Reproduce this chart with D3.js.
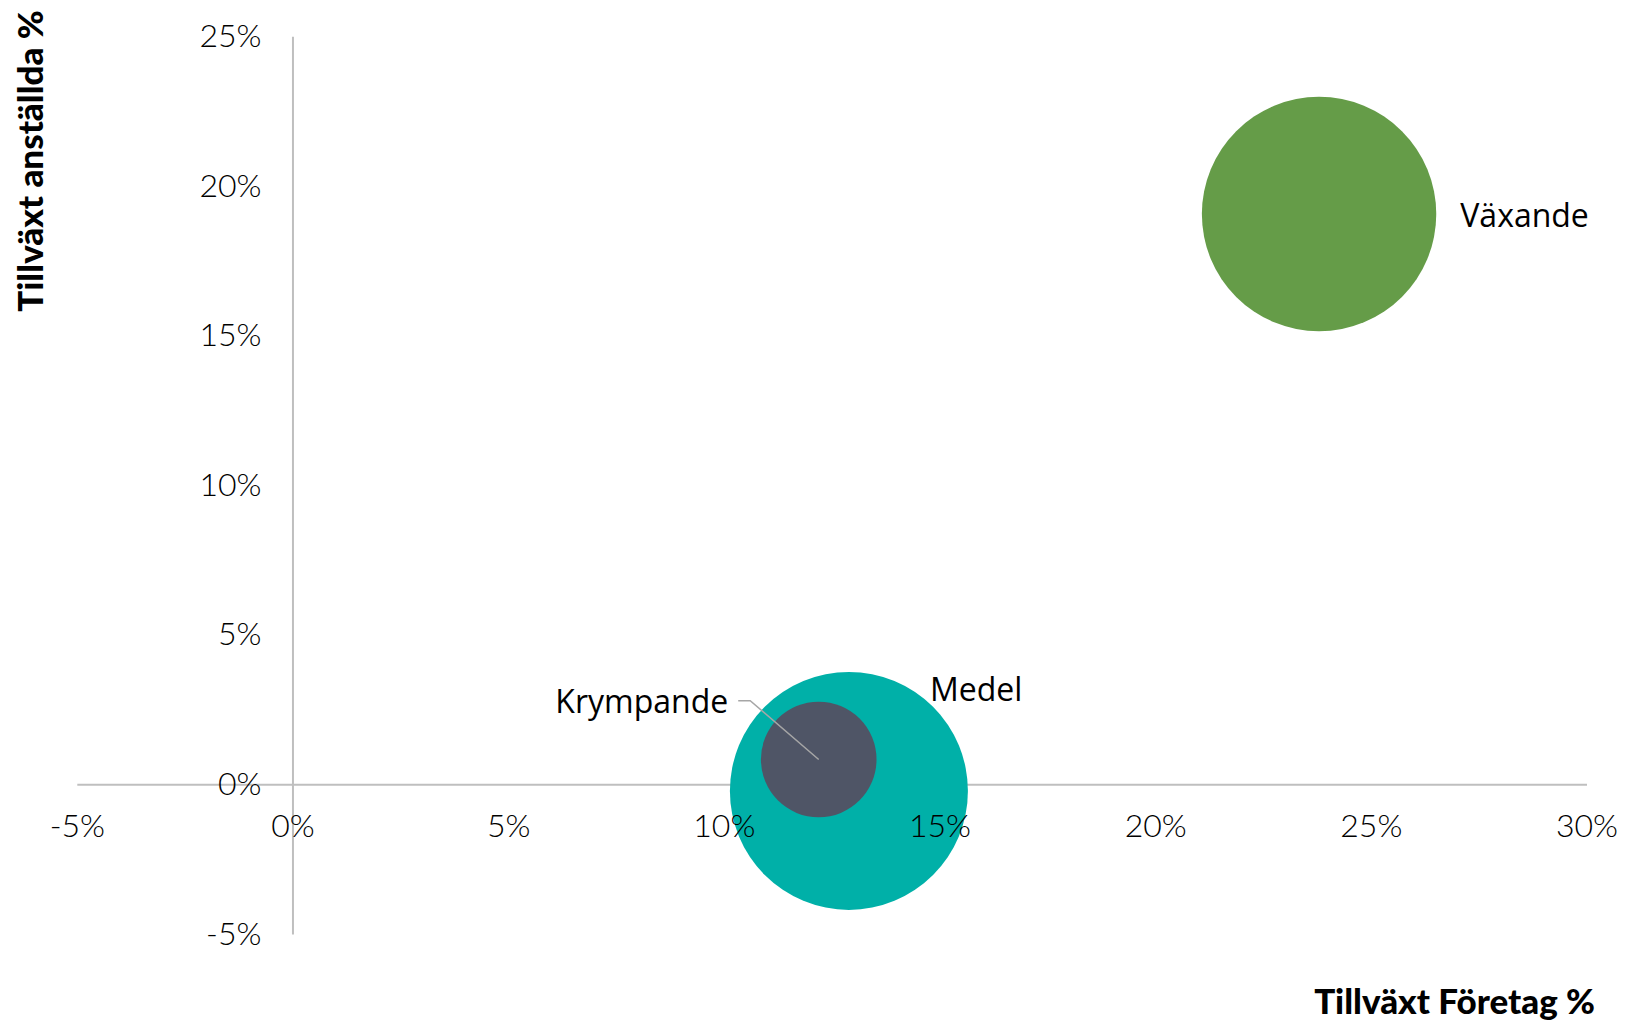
<!DOCTYPE html>
<html lang="sv">
<head>
<meta charset="utf-8">
<script src="https://cdn.jsdelivr.net/npm/d3@7"></script>
<style>
  html, body { margin: 0; padding: 0; background: #fff; }
  svg { display: block; }
  .tick text { font-family: Lato, sans-serif; font-weight: 300; font-size: 32px; fill: #000; }
  .axis-title { font-family: Lato, sans-serif; font-weight: 900; font-size: 35px; fill: #000; }
  .bubble-label { font-family: "Open Sans", sans-serif; font-size: 32px; fill: #000; }
</style>
</head>
<body>
<svg id="chart" width="1627" height="1020"></svg>
<script>
// Groups of companies: growth in number of companies (x) vs growth in employees (y)
const groups = ["Växande", "Medel", "Krympande"];
const companyGrowth = [0.238, 0.129, 0.122];
const employeeGrowth = [0.1906, -0.0022, 0.0083];
const groupSize = [97, 100, 23.6];
const groupColors = ["#659C48", "#00B0A8", "#4F5566"];

const xTickValues = [-0.05, 0, 0.05, 0.10, 0.15, 0.20, 0.25, 0.30];
const yTickValues = [-0.05, 0, 0.05, 0.10, 0.15, 0.20, 0.25];

const xTitle = "Tillväxt Företag %";
const yTitle = "Tillväxt anställda %";

const svg = d3.select("#chart");

const x = d3.scaleLinear().domain([-0.05, 0.30]).range([76.8, 1586.5]);
const y = d3.scaleLinear().domain([-0.05, 0.25]).range([933.9, 36.3]);
const r = d3.scaleSqrt().domain([0, d3.max(groupSize)]).range([0, 119]);

const pct = d => Math.round(d * 100) + "%";

const xAxis = d3.axisBottom(x).tickValues(xTickValues).tickFormat(pct)
  .tickSize(0).tickSizeOuter(0).tickPadding(30);
const yAxis = d3.axisLeft(y).tickValues(yTickValues).tickFormat(pct)
  .tickSize(0).tickSizeOuter(0).tickPadding(31);

// Axis lines cross at zero and sit beneath the bubbles
const axisLines = svg.append("g");
axisLines.append("g").attr("transform", `translate(0,${y(0)})`).call(xAxis);
axisLines.append("g").attr("transform", `translate(${x(0)},0)`).call(yAxis);
axisLines.selectAll(".tick").remove();
axisLines.selectAll(".domain").attr("stroke", "#BFBFBF").attr("stroke-width", 2);

// Bubbles (largest first so smaller ones stay visible on top)
const data = groups.map((g, i) => ({
  name: g, cx: companyGrowth[i], cy: employeeGrowth[i], size: groupSize[i], color: groupColors[i]
}));

svg.append("g").selectAll("circle")
  .data(data.slice().sort((a, b) => b.size - a.size))
  .join("circle")
  .attr("cx", d => x(d.cx))
  .attr("cy", d => y(d.cy))
  .attr("r", d => r(d.size))
  .attr("fill", d => d.color);

// Tick labels are drawn above the bubbles
const axisLabels = svg.append("g");
axisLabels.append("g").attr("transform", `translate(0,${y(0)})`).call(xAxis);
axisLabels.append("g").attr("transform", `translate(${x(0)},0)`).call(yAxis);
axisLabels.selectAll(".domain").remove();

// Data labels
const labels = svg.append("g");
const byName = Object.fromEntries(data.map(d => [d.name, d]));

const vx = byName["Växande"];
labels.append("text").attr("class", "bubble-label")
  .attr("x", x(vx.cx) + r(vx.size) + 24)
  .attr("y", y(vx.cy))
  .attr("dy", "0.4em")
  .text(vx.name);

const md = byName["Medel"];
labels.append("text").attr("class", "bubble-label")
  .attr("x", x(md.cx) + 81)
  .attr("y", y(md.cy) - 90)
  .text(md.name);

const kr = byName["Krympande"];
const kx = x(kr.cx), ky = y(kr.cy);
labels.append("path")
  .attr("d", `M${kx - 80.5},${ky - 58.8}H${kx - 68.5}L${kx},${ky}`)
  .attr("fill", "none")
  .attr("stroke", "#A6A6A6")
  .attr("stroke-width", 1.5);
labels.append("text").attr("class", "bubble-label")
  .attr("x", kx - 90.5)
  .attr("y", ky - 46.2)
  .attr("text-anchor", "end")
  .text(kr.name);

// Axis titles
svg.append("text").attr("class", "axis-title")
  .attr("x", 1595).attr("y", 1014)
  .attr("text-anchor", "end")
  .text(xTitle);

svg.append("text").attr("class", "axis-title")
  .attr("transform", "translate(43,161) rotate(-90)")
  .attr("text-anchor", "middle")
  .text(yTitle);
</script>
</body>
</html>
